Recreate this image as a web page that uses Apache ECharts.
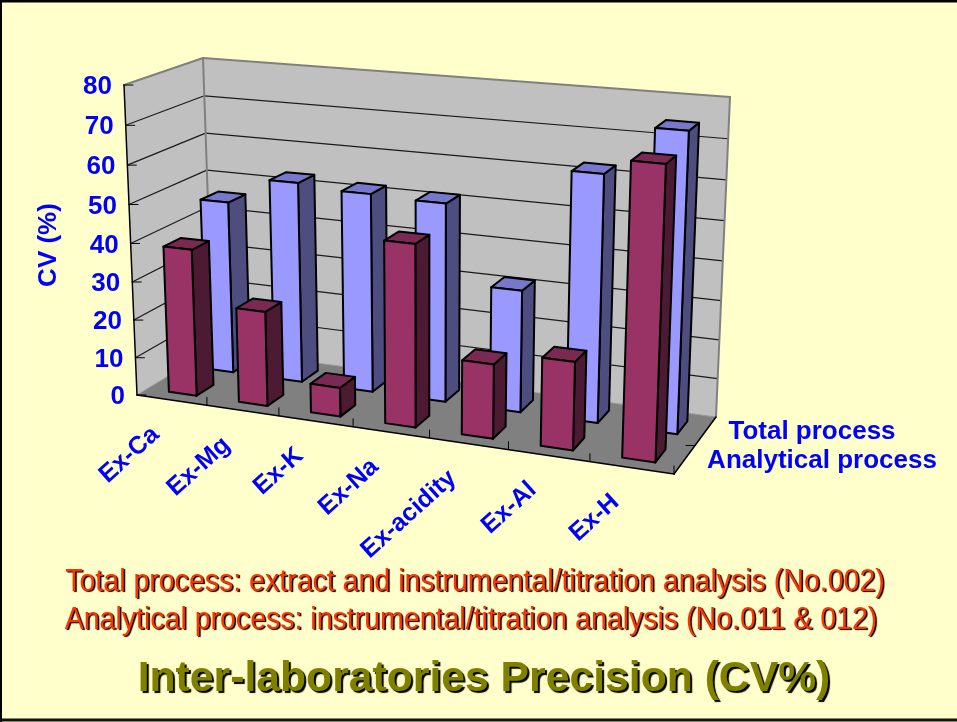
<!DOCTYPE html>
<html>
<head>
<meta charset="UTF-8">
<title>Inter-laboratories Precision</title>
<script src="https://cdn.jsdelivr.net/npm/echarts@6/dist/echarts.min.js"></script>
<style>
html,body{margin:0;padding:0;background:#FFFFCC;}
#main{width:957px;height:722px;}
</style>
</head>
<body>
<div id="main"></div>
<script>
var categories = ['Ex-Ca','Ex-Mg','Ex-K','Ex-Na','Ex-acidity','Ex-Al','Ex-H'];
var totalProcess = [46,53,52,51.5,31.5,62.5,74.5];
var analyticalProcess = [38.5,24.7,7.5,46.3,18.8,22,71];
var valueTicks = [0,10,20,30,40,50,60,70,80];
var seriesNames = ['Total process','Analytical process'];
var noteLines = [
  'Total process: extract and instrumental/titration analysis (No.002)',
  'Analytical process: instrumental/titration analysis (No.011 & 012)'
];
var chartTitle = 'Inter-laboratories Precision (CV%)';
var axisTitle = 'CV (%)';

var font = '"Liberation Sans", Arial, sans-serif';

// corners of the drawn 3d box on the page (bl, br, tr, tl)
var frontPlane = quad([137,395],[674,474],[687,131],[124,85]);
var backPlane = quad([213,349],[716,417],[730,97],[203,58]);

// perspective map of the unit square onto a quad
function quad(p0,p1,p2,p3){
  var dx1=p1[0]-p2[0], dx2=p3[0]-p2[0], sx=p0[0]-p1[0]+p2[0]-p3[0];
  var dy1=p1[1]-p2[1], dy2=p3[1]-p2[1], sy=p0[1]-p1[1]+p2[1]-p3[1];
  var den=dx1*dy2-dy1*dx2;
  var g=(sx*dy2-dx2*sy)/den, h=(dx1*sy-sx*dy1)/den;
  var a=p1[0]-p0[0]+g*p1[0], b=p3[0]-p0[0]+h*p3[0], c=p0[0];
  var d=p1[1]-p0[1]+g*p1[1], e=p3[1]-p0[1]+h*p3[1], f=p0[1];
  return function(u,v){
    var k=g*u+h*v+1;
    return [(a*u+b*v+c)/k,(d*u+e*v+f)/k];
  };
}

// x = category position, val = axis value, w = depth (0 front, 1 back)
function projector(api){
  var o=api.coord([0,0]), e=api.coord([7,80]);
  return function(x,val,w){
    var c=api.coord([x,val]);
    var u=(c[0]-o[0])/(e[0]-o[0]), v=(c[1]-o[1])/(e[1]-o[1]);
    var f=frontPlane(u,v), b=backPlane(u,v);
    return [f[0]+(b[0]-f[0])*w, f[1]+(b[1]-f[1])*w];
  };
}

function poly(pts,fill,stroke,lw){
  return {type:'polygon',shape:{points:pts},style:{fill:fill,stroke:stroke||null,lineWidth:lw||0,lineJoin:'round'}};
}
function seg(a,b,color,lw){
  return {type:'line',shape:{x1:a[0],y1:a[1],x2:b[0],y2:b[1]},style:{stroke:color,lineWidth:lw,lineCap:'round'}};
}

function renderFrame(params,api){
  var P=projector(api), kids=[];
  kids.push(poly([P(0,0,0),P(0,80,0),P(0,80,1),P(0,0,1)],'#C0C0C0'));
  kids.push(poly([P(0,0,1),P(0,80,1),P(7,80,1),P(7,0,1)],'#C0C0C0'));
  kids.push(poly([P(0,0,0),P(7,0,0),P(7,0,1),P(0,0,1)],'#808080'));
  valueTicks.forEach(function(t){
    if(t===0||t===80) return;
    kids.push(seg(P(0,t,0),P(0,t,1),'#1a1a1a',1.2));
    kids.push(seg(P(0,t,1),P(7,t,1),'#1a1a1a',1.2));
  });
  kids.push(seg(P(0,0,0),P(0,0,1),'#999999',1));
  kids.push(seg(P(0,0,1),P(7,0,1),'#999999',1));
  kids.push(seg(P(0,80,0),P(0,80,1),'#808080',2));
  kids.push(seg(P(0,80,1),P(7,80,1),'#808080',2));
  kids.push(seg(P(7,80,1),P(7,0,1),'#808080',2));
  kids.push(seg(P(0,80,1),P(0,0,1),'#808080',2));
  // axis lines and ticks
  kids.push(seg(P(0,80,0),P(0,0,0),'#000',1.5));
  kids.push(seg(P(0,0,0),P(7,0,0),'#000',1.5));
  kids.push(seg(P(7,0,0),P(7,0,1),'#000',1.5));
  valueTicks.forEach(function(t){
    var a=P(0,t,0);
    kids.push(seg(a,[a[0]+9,a[1]],'#000',1));
  });
  for(var i=1;i<=7;i++){
    var b=P(i,0,0);
    kids.push(seg(b,[b[0],b[1]-8],'#000',1));
  }
  var d=P(7,0,0.5);
  kids.push(seg(d,[d[0]-9,d[1]],'#000',1));
  return {type:'group',children:kids};
}

function barRenderer(w0,w1,front,top,side){
  return function(params,api){
    var P=projector(api);
    var i=api.value(0), val=api.value(1);
    var x0=i+0.31, x1=i+0.71;
    return {type:'group',children:[
      poly([P(x1,0,w0),P(x1,0,w1),P(x1,val,w1),P(x1,val,w0)],side,'#000',2),
      poly([P(x0,val,w0),P(x1,val,w0),P(x1,val,w1),P(x0,val,w1)],top,'#000',2),
      poly([P(x0,0,w0),P(x1,0,w0),P(x1,val,w0),P(x0,val,w0)],front,'#000',2)
    ]};
  };
}

function txt(text,x,y,size,color,align,rot){
  return {type:'text',x:x,y:y,rotation:rot||0,silent:true,
    style:{text:text,x:0,y:0,fill:color,font:'bold '+size+'px '+font,align:align,verticalAlign:'middle'}};
}

function renderValueLabel(params,api){
  var P=projector(api);
  var a=P(0,api.value(1),0);
  return txt(String(api.value(1)),a[0]-12,a[1]+2,26,'#0000FF','right');
}
function renderCategoryLabel(params,api){
  var P=projector(api);
  var i=api.value(0);
  var a=P(i+0.5,0,0);
  return txt(categories[i],a[0]-16,a[1]+31,25,'#0000FF','right',42*Math.PI/180);
}

function indexed(arr){ return arr.map(function(v,i){return [i,v];}); }

function shadowText(text,cx,cy,size,weight,color,off,sx){
  return {type:'text',x:cx,y:cy,scaleX:sx||1,silent:true,
    style:{text:text,x:0,y:0,fill:color,
      font:weight+' '+size+'px '+font,align:'center',verticalAlign:'middle',
      textShadowColor:'#000',textShadowBlur:1,textShadowOffsetX:off,textShadowOffsetY:off}};
}

var chart = echarts.init(document.getElementById('main'),null,{renderer:'canvas'});
chart.setOption({
  animation:false,
  backgroundColor:'#FFFFCC',
  grid:{left:100,right:100,top:100,bottom:100},
  xAxis:{type:'value',min:0,max:7,show:false},
  yAxis:{type:'value',min:0,max:80,interval:10,show:false},
  tooltip:{show:false},
  series:[
    {type:'custom',silent:true,renderItem:renderFrame,data:[[0,0]],z:1},
    {type:'custom',name:seriesNames[0],silent:true,renderItem:barRenderer(0.64,0.87,'#9999FF','#7777CC','#4D4D80'),data:indexed(totalProcess),z:2},
    {type:'custom',name:seriesNames[1],silent:true,renderItem:barRenderer(0.14,0.37,'#993366','#7A2952','#4D1A33'),data:indexed(analyticalProcess),z:3},
    {type:'custom',silent:true,renderItem:renderValueLabel,data:valueTicks.map(function(t){return [0,t];}),z:4},
    {type:'custom',silent:true,renderItem:renderCategoryLabel,data:indexed(categories.map(function(){return 0;})),z:4}
  ],
  graphic:[
    {type:'line',silent:true,shape:{x1:0,y1:1,x2:957,y2:1},style:{stroke:'#000',lineWidth:3}},
    {type:'line',silent:true,shape:{x1:1,y1:0,x2:1,y2:722},style:{stroke:'#000',lineWidth:2}},
    {type:'line',silent:true,shape:{x1:0,y1:720,x2:957,y2:720},style:{stroke:'#111',lineWidth:3}},
    {type:'text',x:49,y:245,rotation:Math.PI/2,silent:true,style:{text:axisTitle,x:0,y:0,fill:'#0000FF',font:'bold 26px '+font,align:'center',verticalAlign:'middle'}},
    {type:'text',x:812,y:432,silent:true,style:{text:seriesNames[0],x:0,y:0,fill:'#0000FF',font:'bold 26px '+font,align:'center',verticalAlign:'middle'}},
    {type:'text',x:822,y:461,silent:true,style:{text:seriesNames[1],x:0,y:0,fill:'#0000FF',font:'bold 26px '+font,align:'center',verticalAlign:'middle'}},
    shadowText(noteLines[0],475,582,31,'normal','#FF3300',1.5,0.92),
    shadowText(noteLines[1],471,620,31,'normal','#FF3300',1.5,0.92),
    shadowText(chartTitle,484,679,42.7,'bold','#808000',2,1)
  ]
});
</script>
</body>
</html>
